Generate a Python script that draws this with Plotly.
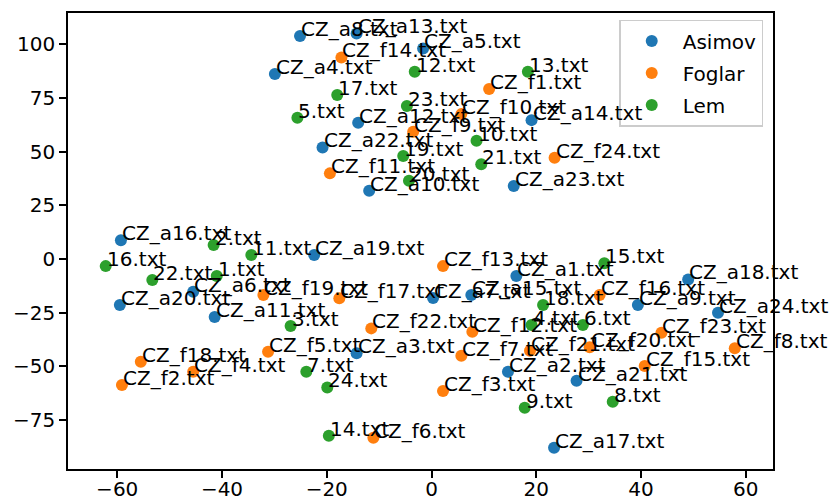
import plotly.graph_objects as go

# ---- data ----
asimov_labels = [f"CZ_a{i}.txt" for i in range(1, 25)]
asimov_x = [16.2, 14.6, -14.3, -29.9, -1.6, -45.5, 0.3, -25.1, 39.4, -11.9, -41.4, -14.0,
            -14.3, 19.1, 7.6, -59.3, 23.4, 49.0, -22.4, -59.5, 27.7, -20.8, 15.7, 54.7]
asimov_y = [-7.9, -52.5, -43.9, 86.2, 98.1, -15.2, -18.2, 103.9, -21.4, 31.8, -27.0, 63.5,
            105.1, 64.7, -16.8, 8.8, -87.9, -9.5, 1.9, -21.4, -56.7, 52.0, 34.0, -25.0]

foglar_labels = [f"CZ_f{i}.txt" for i in range(1, 25)]
foglar_x = [11.0, -59.1, 2.2, -45.5, -31.2, -11.1, 5.7, 57.9, -3.5, 5.7, -19.4, 7.8,
            2.2, -17.2, 40.7, 32.1, -17.6, -55.5, -32.1, 30.2, 18.8, -11.5, 43.9, 23.5]
foglar_y = [79.2, -58.7, -61.5, -52.5, -43.2, -83.2, -45.0, -41.6, 59.3, 67.5, 39.9, -33.9,
            -3.3, 93.9, -49.8, -16.8, -18.3, -47.8, -16.8, -41.1, -42.7, -32.3, -34.3, 47.2]

lem_labels = [f"{i}.txt" for i in range(1, 25)]
lem_x = [-41.0, -41.6, -26.9, 19.1, -25.6, 28.9, -23.9, 34.6, 17.8, 8.6, -34.4, -3.2,
         18.4, -19.6, 33.0, -62.2, -18.0, 21.3, -5.4, -4.3, 9.5, -53.3, -4.7, -19.9]
lem_y = [-7.9, 6.5, -31.2, -30.7, 65.8, -30.7, -52.5, -66.5, -69.3, 55.1, 1.9, 87.2,
         87.2, -82.3, -2.0, -3.3, 76.4, -21.4, 48.0, 36.5, 44.2, -9.8, 71.3, -59.8]

x_ticks = [-60, -40, -20, 0, 20, 40, 60]
x_ticktext = ["−60", "−40", "−20", "0", "20", "40", "60"]
y_ticks = [-75, -50, -25, 0, 25, 50, 75, 100]
y_ticktext = ["−75", "−50", "−25", "0", "25", "50", "75", "100"]

series = [
    ("Asimov", asimov_x, asimov_y, asimov_labels, "#1f77b4"),
    ("Foglar", foglar_x, foglar_y, foglar_labels, "#ff7f0e"),
    ("Lem", lem_x, lem_y, lem_labels, "#2ca02c"),
]

FONT = "DejaVu Sans"
FS = 20

fig = go.Figure()
annotations = []
for name, xs, ys, labels, color in series:
    fig.add_trace(go.Scatter(
        x=xs, y=ys, mode="markers", name=name, legendgroup=name,
        marker=dict(color=color, size=12, line=dict(width=0)),
    ))
    for xv, yv, t in zip(xs, ys, labels):
        annotations.append(dict(
            x=xv, y=yv, xref="x", yref="y", text=t, showarrow=False,
            xanchor="left", yanchor="bottom", borderpad=0, yshift=-6,
            font=dict(family=FONT, size=FS, color="black"),
        ))

axis_common = dict(
    showline=True, mirror=True, linecolor="black", linewidth=1.6,
    ticks="outside", ticklen=7, tickwidth=1.6, tickcolor="black",
    showgrid=False, zeroline=False, automargin=False,
    tickfont=dict(family=FONT, size=FS, color="black"),
)

fig.update_layout(
    width=833, height=500,
    margin=dict(l=68, r=60, t=13, b=31),
    paper_bgcolor="white", plot_bgcolor="white",
    annotations=annotations,
    xaxis=dict(range=[-69.4, 65.2], tickvals=x_ticks, ticktext=x_ticktext,
               ticklabelstandoff=-6, **axis_common),
    yaxis=dict(range=[-97.8, 114.6], tickvals=y_ticks, ticktext=y_ticktext, **axis_common),
    legend=dict(
        x=0.986, y=0.985, xanchor="right", yanchor="top",
        bgcolor="rgba(255,255,255,0.8)", bordercolor="#cccccc", borderwidth=1.6,
        font=dict(family=FONT, size=FS, color="black"),
        itemwidth=52, tracegroupgap=3,
    ),
    showlegend=True,
)

fig.write_html("out.html")
